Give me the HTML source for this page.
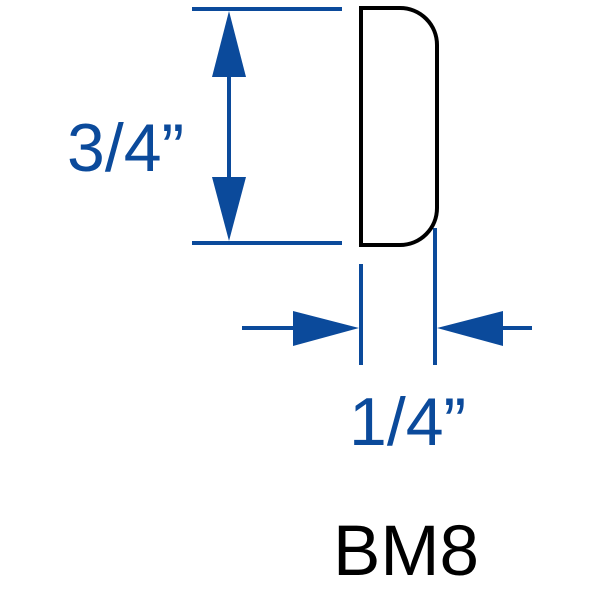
<!DOCTYPE html>
<html><head><style>html,body{margin:0;padding:0;background:#fff}svg{display:block}</style></head>
<body>
<svg width="600" height="600" viewBox="0 0 600 600" xmlns="http://www.w3.org/2000/svg">
<g stroke="#0b4a9b" stroke-width="4" fill="none">
<line x1="192" y1="9" x2="342" y2="9"/>
<line x1="192" y1="243" x2="342" y2="243"/>
<line x1="229" y1="60" x2="229" y2="190"/>
<line x1="361" y1="264" x2="361" y2="365"/>
<line x1="435" y1="228" x2="435" y2="365"/>
<line x1="242" y1="328" x2="300" y2="328"/>
<line x1="495" y1="328" x2="532" y2="328"/>
</g>
<g fill="#0b4a9b">
<polygon points="229,11 212,77 246,77"/>
<polygon points="229,241 212,177 246,177"/>
<polygon points="359,328 293,311 293,346"/>
<polygon points="437,328 503,311 503,346"/>
</g>
<path d="M361,8 L400,8 A37,37 0 0 1 437,45 L437,208 A37,37 0 0 1 400,245 L361,245 Z" stroke="#000" stroke-width="4" fill="none"/>
<g font-family="Liberation Sans, sans-serif" font-size="68" fill="#0b4a9b">
<text x="67" y="171">3/4”</text>
<text x="349" y="445">1/4”</text>
</g>
<text x="333" y="575" font-family="Liberation Sans, sans-serif" font-size="71" fill="#000">BM8</text>
</svg>
</body></html>
